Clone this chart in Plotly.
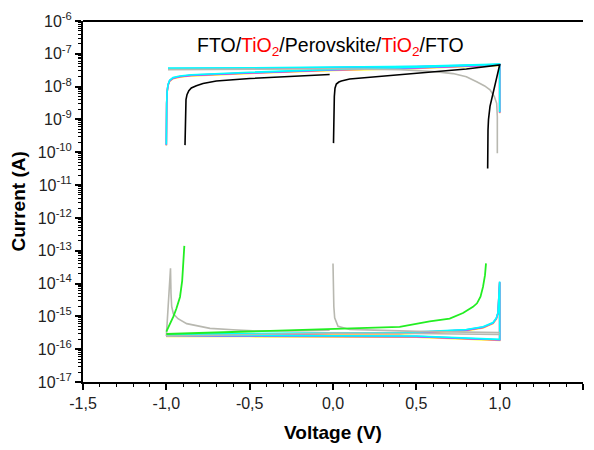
import plotly.graph_objects as go

# ---------------- data ----------------
# upper branch (~1e-8 A)
col_fwd_v = [-1.0, -1.0, -0.998, -0.995, -0.99, -0.98, -0.96, -0.92, -0.85, -0.5, 0.0, 0.5, 1.0]
col_fwd_i = [1.65e-10, 9.5e-10, 3.0e-9, 7.0e-9, 1.1e-8, 1.5e-8, 1.8e-8, 2.0e-8, 2.2e-8, 2.6e-8, 3.2e-8, 3.7e-8, 4.6e-8]
col_rev_v = [1.0, 1.0, 1.0, 0.5, 0.0, -0.5, -0.99]
col_rev_i = [1.6e-9, 1.0e-8, 4.6e-8, 4.0e-8, 3.7e-8, 3.55e-8, 3.5e-8]

blk_a_v = [-0.888, -0.887, -0.885, -0.882, -0.876, -0.865, -0.85, -0.82, -0.78, -0.7, -0.5, -0.2, -0.02]
blk_a_i = [1.65e-10, 9.5e-10, 2.75e-9, 4.0e-9, 5.7e-9, 7.5e-9, 9.1e-9, 1.07e-8, 1.25e-8, 1.48e-8, 1.77e-8, 2.1e-8, 2.34e-8]
blk_b_v = [0.003, 0.005, 0.008, 0.012, 0.02, 0.035, 0.05, 0.1, 0.3, 0.5, 0.8, 1.0, 0.985, 0.972, 0.955, 0.942, 0.933, 0.93, 0.928]
blk_b_i = [1.9e-10, 1.95e-9, 5e-9, 9e-9, 1.2e-8, 1.38e-8, 1.48e-8, 1.7e-8, 2.1e-8, 2.6e-8, 3.45e-8, 4.6e-8, 2.2e-8, 1.0e-8, 4.5e-9, 2.5e-9, 1.0e-9, 4.8e-10, 3.2e-11]

gry_top_v = [-0.99, -0.5, 0.0, 0.4, 0.6, 0.72, 0.8, 0.862, 0.91, 0.942, 0.968, 0.982, 0.986, 0.986]
gry_top_i = [3.3e-8, 3.4e-8, 3.5e-8, 3.3e-8, 2.9e-8, 2.5e-8, 2.0e-8, 1.4e-8, 1.05e-8, 8e-9, 5e-9, 3.1e-9, 1.2e-9, 9.3e-11]

# lower branch (~1e-16 A)
gry_low_a_v = [-1.0, -0.985, -0.975, -0.972, -0.968, -0.958, -0.93, -0.878, -0.8, -0.738, -0.6, -0.48, -0.24, -0.02]
gry_low_a_i = [2.5e-16, 3e-15, 2.9e-14, 5e-15, 2e-15, 1.2e-15, 8.5e-16, 6e-16, 4.9e-16, 4.3e-16, 3.9e-16, 3.6e-16, 3.6e-16, 3.8e-16]
gry_low_b_v = [0.0, 0.002, 0.005, 0.01, 0.03, 0.1, 0.5, 1.0]
gry_low_b_i = [4.1e-14, 1e-14, 2e-15, 9e-16, 5e-16, 4e-16, 3.5e-16, 3.2e-16]
gry_low_c_v = [-1.0, -0.5, 0.0, 0.5, 1.0]
gry_low_c_i = [2.5e-16, 2.8e-16, 3.1e-16, 3.0e-16, 2.8e-16]

grn_fwd_v = [-1.0, -0.5, -0.1, 0.4, 0.58, 0.7, 0.78, 0.84, 0.864, 0.885, 0.9, 0.912, 0.918]
grn_fwd_i = [2.9e-16, 3.5e-16, 4.1e-16, 4.8e-16, 7.0e-16, 8.5e-16, 1.26e-15, 1.95e-15, 2.5e-15, 4.0e-15, 7.9e-15, 1.8e-14, 4.1e-14]
grn_rev_v = [-1.0, -0.988, -0.978, -0.968, -0.958, -0.94, -0.918, -0.905, -0.898, -0.892]
grn_rev_i = [3.4e-16, 4.5e-16, 6e-16, 7.5e-16, 9.8e-16, 1.7e-15, 3.9e-15, 1.2e-14, 5.1e-14, 1.4e-13]

col_low_v = [-1.0, -0.5, 0.0, 0.4, 0.8, 0.9, 0.96, 0.98, 0.99, 1.0, 1.0, 0.5, 0.0, -0.5, -1.0]
col_low_i = [2.7e-16, 2.9e-16, 3.0e-16, 3.0e-16, 3.8e-16, 4.6e-16, 6.2e-16, 8.5e-16, 1.26e-15, 1.1e-14, 1.9e-16, 2.4e-16, 2.5e-16, 2.5e-16, 2.5e-16]

y_tick_exp = list(range(-17, -5))
x_tick_vals = [-1.5, -1.0, -0.5, 0.0, 0.5, 1.0, 1.5]
x_tick_text = ["-1,5", "-1,0", "-0,5", "0,0", "0,5", "1,0", "1,5"]

# ---------------- figure ----------------
fig = go.Figure()

def add(v, i, color, width=1.6):
    fig.add_trace(go.Scatter(x=v, y=i, mode="lines", line=dict(color=color, width=width),
                             hoverinfo="skip", showlegend=False))

colored = [("#FFFF00", 0.97), ("#FF00FF", 1.0), ("#8080FF", 1.02), ("#00FFFF", 1.05)]
for c, f in colored:
    add(col_fwd_v, [x * f for x in col_fwd_i], c)
    add(col_rev_v, [x * f for x in col_rev_i], c)
    add(col_low_v, [x * f for x in col_low_i], c)

add(gry_top_v, gry_top_i, "#B8B8B0")
add(gry_low_a_v, gry_low_a_i, "#B8B8B0")
add(gry_low_b_v, gry_low_b_i, "#B8B8B0")
add(gry_low_c_v, gry_low_c_i, "#B8B8B0")
add(blk_a_v, blk_a_i, "#000000")
add(blk_b_v, blk_b_i, "#000000")
add(grn_fwd_v, grn_fwd_i, "#22EE22", 1.8)
add(grn_rev_v, grn_rev_i, "#22EE22", 1.8)

font_family = "Liberation Sans, Arial, sans-serif"

# the page body adds an 8px offset, so the figure is 8px smaller on each side
fig.update_layout(
    width=586, height=442,
    margin=dict(l=75, r=11, t=13, b=68, autoexpand=False),
    plot_bgcolor="white", paper_bgcolor="white",
    font=dict(family=font_family, color="black"),
)
fig.update_xaxes(
    automargin=False,
    range=[-1.5, 1.5], tickmode="array", tickvals=x_tick_vals, ticktext=x_tick_text,
    ticks="outside", ticklen=6, tickwidth=1.5, tickcolor="black",
    minor=dict(tickmode="linear", tick0=-1.5, dtick=0.1, ticks="outside", ticklen=3, tickcolor="black", tickwidth=1),
    showline=True, linecolor="black", linewidth=2, showgrid=False, zeroline=False,
    tickfont=dict(size=16, color="#222222"),
    title=dict(text="<b>Voltage (V)</b>", font=dict(size=19), standoff=14),
)
fig.update_yaxes(
    automargin=False,
    type="log", range=[-17, -6], tickmode="array",
    tickvals=[10.0 ** e for e in y_tick_exp],
    ticktext=["10<sup>%d</sup>" % e for e in y_tick_exp],
    ticks="outside", ticklen=6, tickwidth=1.5, tickcolor="black",
    minor=dict(tickmode="array", tickvals=[k * 10.0 ** e for e in range(-17, -6) for k in range(2, 10)],
               ticks="outside", ticklen=3, tickcolor="black", tickwidth=1),
    showline=True, linecolor="black", linewidth=2, showgrid=False, zeroline=False,
    tickfont=dict(size=16, color="#222222"),
)
fig.add_annotation(
    xref="paper", yref="paper", x=-0.13, y=0.5, showarrow=False, textangle=-90,
    xanchor="center", yanchor="middle",
    text="<b>Current (A)</b>", font=dict(size=19, family=font_family, color="black"),
)
fig.add_shape(type="line", xref="paper", yref="paper", x0=0, x1=1, y0=1, y1=1,
              line=dict(color="black", width=2))
fig.add_annotation(
    xref="paper", yref="paper", x=0.494, y=0.97, showarrow=False,
    text="FTO/<span style='color:red'>TiO<sub>2</sub></span>/Perovskite/<span style='color:red'>TiO<sub>2</sub></span>/FTO",
    font=dict(size=19.5, family=font_family, color="black"),
)

fig.write_html("out.html")
